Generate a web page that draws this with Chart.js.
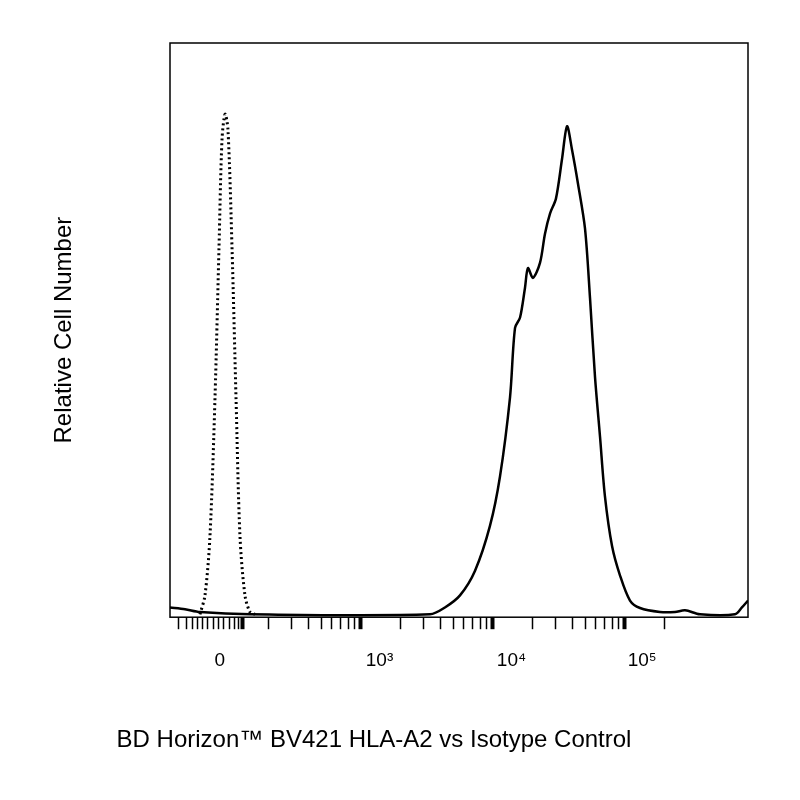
<!DOCTYPE html><html><head><meta charset="utf-8">
<script src="https://cdn.jsdelivr.net/npm/chart.js@4"></script>
<style>body{margin:0;background:#fff}#w{width:800px;height:800px}</style></head><body><div id="w"><canvas id="c"></canvas></div>
<script>
// x in display units: 10^n at n (biexponential display), 0 at ~2.1
const solidX=[1.553,1.667,1.780,2.159,3.523,3.636,3.75,3.864,3.977,4.053,4.129,4.167,4.205,4.242,4.265,4.303,4.356,4.394,4.432,4.477,4.523,4.561,4.598,4.644,4.697,4.735,4.773,4.811,4.848,4.902,4.962,5.038,5.114,5.265,5.379,5.455,5.568,5.833,5.886,5.932];
const solidY=[1.7,1.4,0.9,0.5,0.5,1.7,3.8,8.1,15.9,24.5,38.3,50.4,52.2,57.3,60.8,59.1,61.7,66.8,70.3,72.9,79.8,85.5,81.5,75.5,67.7,55.6,41.8,31.4,21.1,12.4,7.3,2.9,1.6,0.9,0.9,1.2,0.5,0.5,1.7,2.9];
const isoX=[1.780,1.818,1.856,1.894,1.924,1.947,1.970,1.992,2.023,2.053,2.083,2.121,2.159,2.197];
const isoY=[0.5,3.8,14.2,38.3,64.2,83.2,87.6,85.0,64.2,38.3,14.2,3.8,0.9,0.5];
const majorTicks=[2.1,3,4,5];
const minorTicks=[1.62,1.68,1.72,1.76,1.8,1.84,1.88,1.92,1.96,2.0,2.04,2.07,3.301,3.477,3.602,3.699,3.778,3.845,3.903,3.954,4.301,4.477,4.602,4.699,4.778,4.845,4.903,4.954,5.301,2.301,2.477,2.602,2.699,2.778,2.845,2.903,2.954];
const labelPos=[1.93,3.14,4.14,5.13];
const labelText=['0','10³','10⁴','10⁵'];
const xMin=1.553,xMax=5.932;
const frame={id:'frame',afterDraw(ch){const a=ch.chartArea,c=ch.ctx;c.save();c.strokeStyle='#000';c.lineWidth=1.5;c.strokeRect(a.left,a.top,a.right-a.left,a.bottom-a.top);c.restore();}};
const pts=(xs,ys)=>xs.map((x,i)=>({x,y:ys[i]}));
new Chart(document.getElementById('c'),{type:'line',
data:{datasets:[
{data:pts(isoX,isoY),borderColor:'#000',borderWidth:3,borderDash:[2,3],pointRadius:0,tension:0.3},
{data:pts(solidX,solidY),borderColor:'#000',borderWidth:2.5,pointRadius:0,tension:0.3}]},
options:{animation:false,responsive:true,maintainAspectRatio:false,devicePixelRatio:1,
plugins:{legend:{display:false},tooltip:{enabled:false},
 title:{display:true,position:'bottom',text:'BD Horizon™ BV421 HLA-A2 vs Isotype Control',color:'#000',font:{family:'Liberation Sans',size:24,weight:'normal'},padding:{top:0,bottom:45}}},
layout:{padding:{left:0,right:52,top:43,bottom:0}},
scales:{
y:{min:0,max:100,ticks:{display:false},grid:{display:false},border:{display:false},
 title:{display:true,text:'Relative Cell Number',font:{family:'Liberation Sans',size:24},color:'#000',padding:{top:50,bottom:0}},
 afterFit(s){s.width=170;}},
x:{type:'linear',min:xMin,max:xMax,position:'bottom',
 afterBuildTicks(s){s.ticks=majorTicks.concat(minorTicks).map(v=>({value:v}));},
 ticks:{display:false},
 grid:{drawOnChartArea:false,color:'#000',tickLength:12,tickWidth:c=>majorTicks.includes(c.tick&&c.tick.value)?4:1.5},
 border:{display:false},afterFit(s){s.height=14;}},
x2:{type:'linear',min:xMin,max:xMax,position:'bottom',
 afterBuildTicks(s){s.ticks=labelPos.map(v=>({value:v}));},
 ticks:{autoSkip:false,maxRotation:0,color:'#000',font:{family:'Liberation Sans',size:19},padding:10,callback:(v,i)=>labelText[i]},
 grid:{display:false},border:{display:false},
 afterFit(s){s.height=95;}}
}},plugins:[frame]});
</script></body></html>
